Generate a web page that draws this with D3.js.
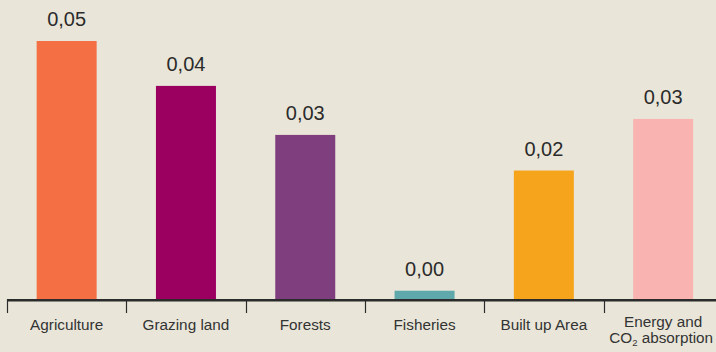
<!DOCTYPE html>
<html>
<head>
<meta charset="utf-8">
<script src="https://cdn.jsdelivr.net/npm/d3@7"></script>
<style>
  html, body { margin: 0; padding: 0; background: #e9e6d9; }
  svg { display: block; }
  .value-label { font-family: "Liberation Sans", Arial, sans-serif; font-size: 20px; fill: #2b2b2b; }
  .cat-label { font-family: "Liberation Sans", Arial, sans-serif; font-size: 15.3px; fill: #333; }
</style>
</head>
<body>
<div id="chart"></div>
<script>
// categories (second line optional)
const categories = ['Agriculture', 'Grazing land', 'Forests', 'Fisheries', 'Built up Area', 'Energy and CO2 absorption'];
const labelLines = [['Agriculture'], ['Grazing land'], ['Forests'], ['Fisheries'], ['Built up Area'], ['Energy and', 'CO2 absorption']];
const values = [0.050, 0.0413, 0.0318, 0.0016, 0.0249, 0.0349];
const colors = ['#f47044', '#9b0060', '#7f3f7f', '#5fa8ab', '#f7a41d', '#f9b4b1'];

const width = 716, height = 352;
const baseline = 299;

const svg = d3.select('#chart').append('svg')
    .attr('width', width)
    .attr('height', height);

svg.append('rect')
    .attr('width', width)
    .attr('height', height)
    .attr('fill', '#e9e6d9');

const x = d3.scaleBand()
    .domain(categories)
    .range([7, 7 + 6 * 119.3])
    .padding(0);

const y = d3.scaleLinear()
    .domain([0, 0.05])
    .range([baseline, 41]);

const barW = 60;
const fmt = v => v.toFixed(2).replace('.', ',');

// bars
svg.selectAll('.bar')
    .data(categories)
    .enter().append('rect')
    .attr('class', 'bar')
    .attr('x', (d) => x(d) + (x.bandwidth() - barW) / 2)
    .attr('width', barW)
    .attr('y', (d, i) => y(values[i]))
    .attr('height', (d, i) => baseline - y(values[i]))
    .attr('fill', (d, i) => colors[i]);

// value labels
svg.selectAll('.value-label')
    .data(categories)
    .enter().append('text')
    .attr('class', 'value-label')
    .attr('x', (d) => x(d) + x.bandwidth() / 2)
    .attr('y', (d, i) => y(values[i]) - 15)
    .attr('text-anchor', 'middle')
    .text((d, i) => fmt(values[i]));

// axis line + ticks at band edges
svg.append('line')
    .attr('x1', 7).attr('x2', width)
    .attr('y1', baseline + 1.2).attr('y2', baseline + 1.2)
    .attr('stroke', '#2b2b2b')
    .attr('stroke-width', 2.4);

svg.selectAll('.tick')
    .data(categories)
    .enter().append('line')
    .attr('class', 'tick')
    .attr('x1', (d) => Math.round(x(d)) + 0.5)
    .attr('x2', (d) => Math.round(x(d)) + 0.5)
    .attr('y1', baseline)
    .attr('y2', baseline + 14)
    .attr('stroke', '#2b2b2b')
    .attr('stroke-width', 1.2);

// category labels
const cat = svg.selectAll('.cat-label')
    .data(categories)
    .enter().append('text')
    .attr('class', 'cat-label')
    .attr('text-anchor', 'middle')
    .attr('x', (d) => x(d) + x.bandwidth() / 2)
    .attr('y', (d, i) => labelLines[i].length > 1 ? 327 : 330);

cat.each(function (d, i) {
    const t = d3.select(this);
    labelLines[i].forEach((line, j) => {
        const ts = t.append('tspan')
            .attr('x', x(d) + x.bandwidth() / 2 - (line.indexOf('CO2') === 0 ? 2 : 0))
            .attr('dy', j === 0 ? 0 : 16);
        if (line.indexOf('CO2') === 0) {
            ts.text('CO');
            t.append('tspan').attr('font-size', '9.5px').attr('dy', 3).text('2');
            t.append('tspan').attr('dy', -3).text(line.slice(3));
        } else {
            ts.text(line);
        }
    });
});
</script>
</body>
</html>
